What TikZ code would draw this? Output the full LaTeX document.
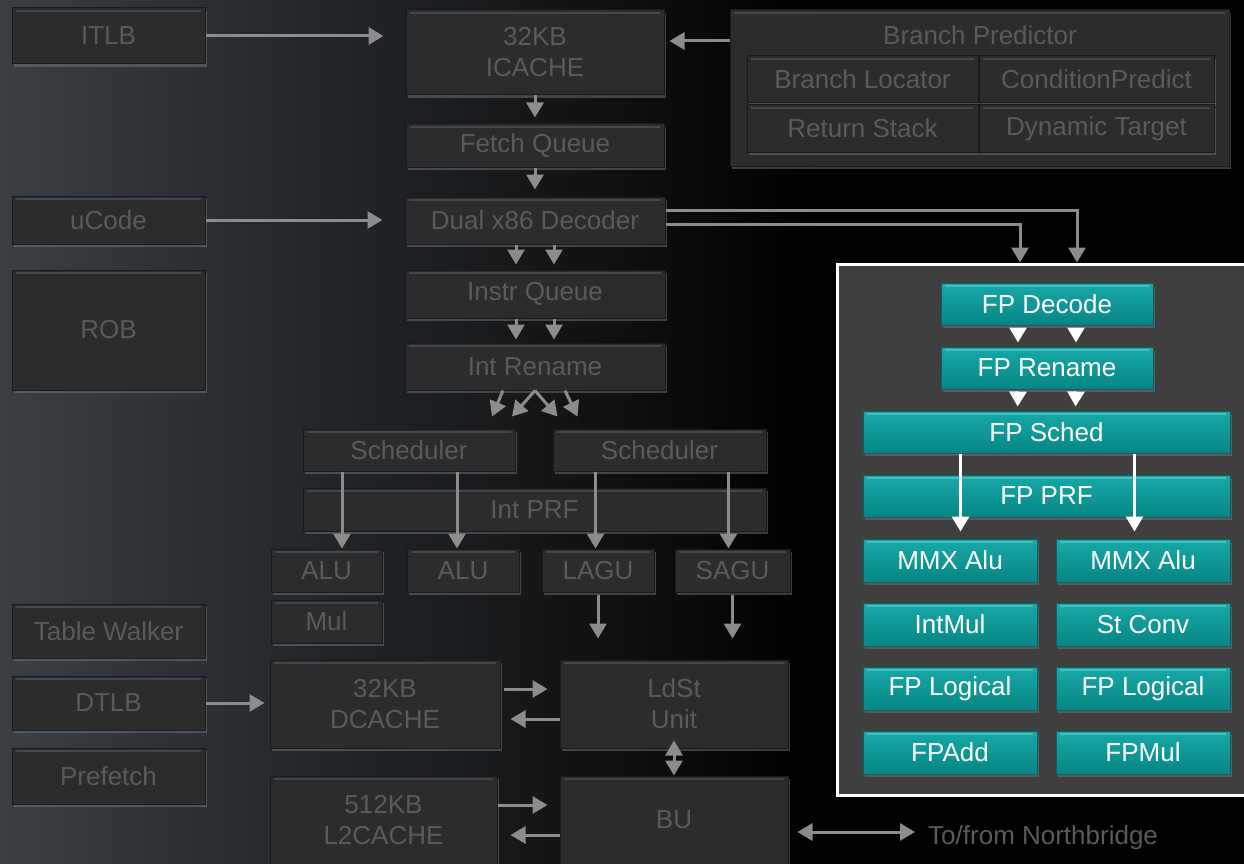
\documentclass[tikz,border=0pt]{standalone}
\usepackage{fontspec}
\setmainfont{Liberation Sans}
\definecolor{bgleft}{HTML}{3A3F44}
\definecolor{boxfill}{HTML}{2C2C2C}
\definecolor{boxedge}{HTML}{1A1A1A}
\definecolor{boxshine}{HTML}{474747}
\definecolor{dimtext}{HTML}{5A5A5A}
\definecolor{wirecol}{HTML}{8C8C8C}
\definecolor{fppanel}{HTML}{3F3F3F}
\definecolor{tealtop}{HTML}{17A9A8}
\definecolor{tealbot}{HTML}{088585}
\definecolor{tealedge}{HTML}{066464}
\definecolor{tealshine}{HTML}{3CC2C0}
\usetikzlibrary{arrows.meta, shadows}

\begin{document}
\begin{tikzpicture}[x=1pt, y=-1pt,
		wh/.style 2 args={minimum width=#1, minimum height=#2},
		box/.style={fill=boxfill, draw=boxedge, line width=1pt, text=dimtext, inner sep=0pt, align=center, font=\fontsize{26}{31}\selectfont,
			drop shadow={opacity=0.45, shadow xshift=2pt, shadow yshift=-3pt},
			path picture={\draw[boxshine, line width=2.5pt] ([xshift=4pt,yshift=-3pt]path picture bounding box.north west) -- ([xshift=-4pt,yshift=-3pt]path picture bounding box.north east);}},
		fpbox/.style={box, top color=tealtop, bottom color=tealbot, draw=tealedge, text=white,
			path picture={\draw[tealshine, line width=2.5pt] ([xshift=4pt,yshift=-3pt]path picture bounding box.north west) -- ([xshift=-4pt,yshift=-3pt]path picture bounding box.north east);}},
		txt/.style={text=dimtext, inner sep=0pt, font=\fontsize{26}{31}\selectfont},
		>={Triangle[width=17pt,length=15pt]},
		arrow/.style={->, color=wirecol, line width=3pt},
		dbl/.style={<->, color=wirecol, line width=3pt},
		warrow/.style={->, color=white, line width=3pt}
	]
	% Background
	\useasboundingbox (0,0) rectangle (1244,864);
	\fill[black] (0,0) rectangle (1244,864);
	\shade[left color=bgleft, right color=black] (0,0) rectangle (820,864);

	% Left column
	\node[box, wh={193pt}{56pt}] (itlb) at (108.5,36) {ITLB};
	\node[box, wh={193pt}{48pt}] (ucode) at (108.5,220) {uCode};
	\node[box, wh={193pt}{120pt}] (rob) at (108.5,330) {ROB};
	\node[box, wh={193pt}{54pt}] (walker) at (108.5,631) {Table Walker};
	\node[box, wh={193pt}{54pt}] (dtlb) at (108.5,703) {DTLB};
	\node[box, wh={193pt}{56pt}] (prefetch) at (108.5,776) {Prefetch};

	% Front end
	\node[box, wh={258pt}{85pt}] (icache) at (535,52.5) {32KB\\ICACHE};
	\node[box, wh={258pt}{43pt}] (fq) at (535,145.5) {Fetch Queue};
	\node[box, wh={260pt}{47pt}] (dec) at (535,220.5) {Dual x86 Decoder};
	\node[box, wh={260pt}{48pt}] (iq) at (535,294) {Instr Queue};
	\node[box, wh={260pt}{47pt}] (ren) at (535,366.5) {Int Rename};

	% Branch predictor
	\node[box, wh={499pt}{156pt}] (bp) at (979.5,88) {};
	\node[txt] (bptitle) at (980,35) {Branch Predictor};
	\node[box, wh={231pt}{47pt}] (locator) at (862.5,79.5) {Branch Locator};
	\node[box, wh={235pt}{47pt}] (cond) at (1096.5,79.5) {ConditionPredict};
	\node[box, wh={231pt}{47pt}] (retstack) at (862.5,128.5) {Return Stack};
	\node[box, wh={235pt}{47pt}] (dyntarget) at (1096.5,128.5) {Dynamic Target};

	% Integer core
	\node[box, wh={212pt}{42pt}] (sch1) at (409,450) {Scheduler};
	\node[box, wh={213pt}{42pt}] (sch2) at (659.5,450) {Scheduler};
	\node[box, wh={463pt}{43pt}] (prf) at (534.5,509.5) {Int PRF};
	\node[box, wh={111pt}{43pt}] (alu1) at (326.5,570.5) {ALU};
	\node[box, wh={112pt}{43pt}] (alu2) at (463,570.5) {ALU};
	\node[box, wh={112pt}{43pt}] (lagu) at (598,570.5) {LAGU};
	\node[box, wh={115pt}{43pt}] (sagu) at (732.5,570.5) {SAGU};
	\node[box, wh={111pt}{43pt}] (mul) at (326.5,621.5) {Mul};

	% Memory
	\node[box, wh={230pt}{88pt}] (dcache) at (385,704) {32KB\\DCACHE};
	\node[box, wh={228pt}{88pt}] (ldst) at (674,704) {LdSt\\Unit};
	\node[box, wh={227pt}{88pt}] (l2) at (383.5,820) {512KB\\L2CACHE};
	\node[box, wh={228pt}{88pt}] (bu) at (674,820) {BU};
	\node[txt, anchor=west] (nb) at (928,838) {To/from Northbridge};
	\coordinate (laguout) at ([yshift=-46pt]lagu.south);
	\coordinate (saguout) at ([yshift=-46pt]sagu.south);

	% FP unit
	\node[draw=white, line width=3pt, fill=fppanel, wh={423pt}{531pt}] (fpu) at (1048.5,529.5) {};
	\node[fpbox, wh={212pt}{42pt}] (fpdec) at (1047,304) {FP Decode};
	\node[fpbox, wh={212pt}{42pt}] (fpren) at (1047,368) {FP Rename};
	\node[fpbox, wh={367pt}{42pt}] (fpsch) at (1046.5,432) {FP Sched};
	\node[fpbox, wh={367pt}{42pt}] (fpprf) at (1046.5,496) {FP PRF};
	\node[fpbox, wh={174pt}{43pt}] (mmxa) at (950,560.5) {MMX Alu};
	\node[fpbox, wh={174pt}{43pt}] (mmxb) at (1143,560.5) {MMX Alu};
	\node[fpbox, wh={174pt}{43pt}] (intmul) at (950,624.5) {IntMul};
	\node[fpbox, wh={174pt}{43pt}] (stconv) at (1143,624.5) {St Conv};
	\node[fpbox, wh={174pt}{43pt}] (fplog1) at (950,688.5) {FP Logical};
	\node[fpbox, wh={174pt}{43pt}] (fplog2) at (1143,688.5) {FP Logical};
	\node[fpbox, wh={174pt}{43pt}] (fpadd) at (950,752.5) {FPAdd};
	\node[fpbox, wh={174pt}{43pt}] (fpmul) at (1143,752.5) {FPMul};

	% Front end arrows
	\draw[arrow, shorten >=22pt] (itlb.east) -- (itlb.east -| icache.west);
	\draw[arrow, shorten >=5pt] ([yshift=47pt]bp.west) -- ([yshift=47pt]bp.west -| icache.east);
	\draw[arrow, shorten >=6pt] (icache.south) -- (fq.north);
	\draw[arrow, shorten >=7pt] (fq.south) -- (dec.north);
	\draw[arrow, shorten >=22pt] (ucode.east) -- (ucode.east -| dec.west);
	\foreach \dx in {-19,19} {
		\draw[arrow, shorten >=5pt] ([xshift=\dx pt]dec.south) -- ([xshift=\dx pt]iq.north);
		\draw[arrow, shorten >=3pt] ([xshift=\dx pt]iq.south) -- ([xshift=\dx pt]ren.north);
	}
	\draw[arrow] ([xshift=-32pt]ren.south) -- ([xshift=83pt,yshift=12pt]sch1.north);
	\draw[arrow] (ren.south) -- ([xshift=103pt,yshift=12pt]sch1.north);
	\draw[arrow] (ren.south) -- ([xshift=-102pt,yshift=12pt]sch2.north);
	\draw[arrow] ([xshift=30pt]ren.south) -- ([xshift=-82pt,yshift=12pt]sch2.north);
	\draw[arrow] ([yshift=10pt]dec.east) -| ([xshift=30pt]fpdec.north |- fpu.north);
	\draw[arrow] ([yshift=-4pt]dec.east) -| ([xshift=-27pt]fpdec.north |- fpu.north);

	% Issue arrows
	\foreach \src/\dx/\dst in {sch1/-67/alu1, sch1/48/alu2, sch2/-64/lagu, sch2/69/sagu}
		\draw[arrow] ([xshift=\dx pt]\src.south) -- ([xshift=\dx pt]\src.south |- \dst.north);
	\draw[arrow, shorten <=2pt] (lagu.south) -- (laguout);
	\draw[arrow, shorten <=2pt] (sagu.south) -- (saguout);

	% Memory arrows
	\draw[arrow, shorten >=5pt] (dtlb.east) -- (dtlb.east -| dcache.west);
	\draw[arrow, shorten <=3pt, shorten >=12pt] ([yshift=15pt]dcache.east) -- ([yshift=15pt]dcache.east -| ldst.west);
	\draw[arrow, shorten >=10pt] ([yshift=-15pt]ldst.west) -- ([yshift=-15pt]ldst.west -| dcache.east);
	\draw[arrow, shorten >=12pt] ([yshift=15pt]l2.east) -- ([yshift=15pt]l2.east -| bu.west);
	\draw[arrow, shorten >=13pt] ([yshift=-15pt]bu.west) -- ([yshift=-15pt]bu.west -| l2.east);
	\draw[dbl] ([yshift=8pt]ldst.south) -- (bu.north);
	\draw[dbl, shorten <=9pt, shorten >=13pt] ([yshift=-12pt]bu.east) -- ([yshift=-12pt]bu.east -| nb.west);

	% FP arrows
	\foreach \dx in {-29,29} {
		\draw[warrow, shorten <=2pt, shorten >=4pt] ([xshift=\dx pt]fpdec.south) -- ([xshift=\dx pt]fpren.north);
		\draw[warrow, shorten <=2pt, shorten >=4pt] ([xshift=\dx pt]fpren.south) -- ([xshift=\dx pt]fpsch.north);
	}
	\foreach \dx/\dst in {-86/mmxa, 88/mmxb}
		\draw[warrow, shorten >=7pt] ([xshift=\dx pt]fpsch.south) -- ([xshift=\dx pt]fpsch.south |- \dst.north);
\end{tikzpicture}
\end{document}
